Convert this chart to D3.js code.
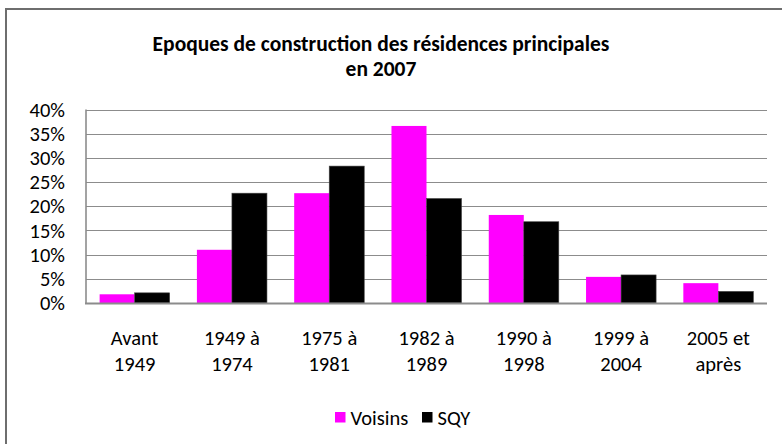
<!DOCTYPE html>
<html>
<head>
<meta charset="utf-8">
<script src="https://cdn.jsdelivr.net/npm/d3@7"></script>
<style>
  html, body { margin: 0; padding: 0; background: #fff; }
  svg { display: block; }
  text { font-family: Carlito, Calibri, "Liberation Sans Narrow", "Open Sans", sans-serif; fill: #000; }
</style>
</head>
<body>
<svg id="chart" width="782" height="444"></svg>
<script>
/* ── Data ──────────────────────────────────────────────────── */
const categories = [
  ['Avant', '1949'],
  ['1949 à', '1974'],
  ['1975 à', '1981'],
  ['1982 à', '1989'],
  ['1990 à', '1998'],
  ['1999 à', '2004'],
  ['2005 et', 'après'],
];
const seriesNames = ['Voisins', 'SQY'];
const voisins = [0.018, 0.110, 0.227, 0.366, 0.182, 0.054, 0.041];
const sqy     = [0.021, 0.227, 0.283, 0.216, 0.168, 0.058, 0.024];
const yTicks  = [0, 0.05, 0.10, 0.15, 0.20, 0.25, 0.30, 0.35, 0.40];
const colors  = ['#ff00ff', '#000000'];
const titleLines = ['Epoques de construction des résidences principales', 'en 2007'];

/* ── Layout ────────────────────────────────────────────────── */
const plot = { left: 86, right: 767, top: 109.5, bottom: 303 };
const FS = 20.5;
const svg = d3.select('#chart');

// outer frame (only top/left edges are visible in the crop)
svg.append('path')
  .attr('d', 'M6,444 L6,9 L782,9')
  .attr('fill', 'none')
  .attr('stroke', '#6e6e6e')
  .attr('stroke-width', 2);

const x = d3.scaleBand()
  .domain(d3.range(categories.length))
  .range([plot.left, plot.right])
  .paddingInner(0.28)
  .paddingOuter(0.14);

const xs = d3.scaleBand()
  .domain(d3.range(seriesNames.length))
  .range([0, x.bandwidth()]);

const y = d3.scaleLinear()
  .domain([0, 0.40])
  .range([plot.bottom, plot.top]);

/* ── Gridlines ─────────────────────────────────────────────── */
svg.append('g')
  .selectAll('line')
  .data(yTicks.filter(t => t > 0))
  .join('line')
  .attr('x1', plot.left).attr('x2', plot.right)
  .attr('y1', d => Math.round(y(d)) + 0.5)
  .attr('y2', d => Math.round(y(d)) + 0.5)
  .attr('stroke', '#8c8c8c')
  .attr('stroke-width', 1.2);

/* ── Bars ──────────────────────────────────────────────────── */
const data = categories.map((c, i) => [voisins[i], sqy[i]]);
const groups = svg.append('g')
  .selectAll('g')
  .data(data)
  .join('g')
  .attr('transform', (d, i) => `translate(${x(i)},0)`);

groups.selectAll('rect')
  .data(d => d.map((v, k) => ({ v, k })))
  .join('rect')
  .attr('x', d => xs(d.k))
  .attr('width', xs.bandwidth())
  .attr('y', d => y(d.v))
  .attr('height', d => y(0) - y(d.v))
  .attr('fill', d => colors[d.k])
  .attr('stroke', d => d.k === 1 ? '#444' : 'none')
  .attr('stroke-width', 0.6);

/* ── Axes ──────────────────────────────────────────────────── */
svg.append('line')
  .attr('x1', plot.left).attr('x2', plot.left)
  .attr('y1', plot.top).attr('y2', plot.bottom + 1)
  .attr('stroke', '#8c8c8c').attr('stroke-width', 1.6);
svg.append('line')
  .attr('x1', plot.left - 1).attr('x2', plot.right)
  .attr('y1', plot.bottom + 0.5).attr('y2', plot.bottom + 0.5)
  .attr('stroke', '#8c8c8c').attr('stroke-width', 2);

const fmt = d3.format('.0%');
svg.append('g')
  .selectAll('text')
  .data(yTicks)
  .join('text')
  .attr('x', 65)
  .attr('y', d => y(d))
  .attr('dy', '0.35em')
  .attr('text-anchor', 'end')
  .attr('font-size', FS)
  .text(d => fmt(d));

const xl = svg.append('g')
  .selectAll('text')
  .data(categories)
  .join('text')
  .attr('text-anchor', 'middle')
  .attr('font-size', FS)
  .attr('x', (d, i) => x(i) + x.bandwidth() / 2);
xl.append('tspan')
  .attr('x', (d, i) => x(i) + x.bandwidth() / 2)
  .attr('y', 338).attr('dy', '0.35em')
  .text(d => d[0]);
xl.append('tspan')
  .attr('x', (d, i) => x(i) + x.bandwidth() / 2)
  .attr('y', 363.5).attr('dy', '0.35em')
  .text(d => d[1]);

/* ── Title ─────────────────────────────────────────────────── */
svg.append('g')
  .selectAll('text')
  .data(titleLines)
  .join('text')
  .attr('x', 381)
  .attr('y', (d, i) => 43 + i * 25)
  .attr('dy', '0.35em')
  .attr('text-anchor', 'middle')
  .attr('font-size', 21.5)
  .attr('font-weight', 'bold')
  .text(d => d);

/* ── Legend ────────────────────────────────────────────────── */
const legendX = [335, 422];
const leg = svg.append('g')
  .selectAll('g')
  .data(seriesNames)
  .join('g')
  .attr('transform', (d, i) => `translate(${legendX[i]},412)`);
leg.append('rect')
  .attr('width', 10.5).attr('height', 10.5)
  .attr('fill', (d, i) => colors[i]);
leg.append('text')
  .attr('x', 15.5).attr('y', 5.5).attr('dy', '0.35em')
  .attr('font-size', FS)
  .text(d => d);
</script>
</body>
</html>
